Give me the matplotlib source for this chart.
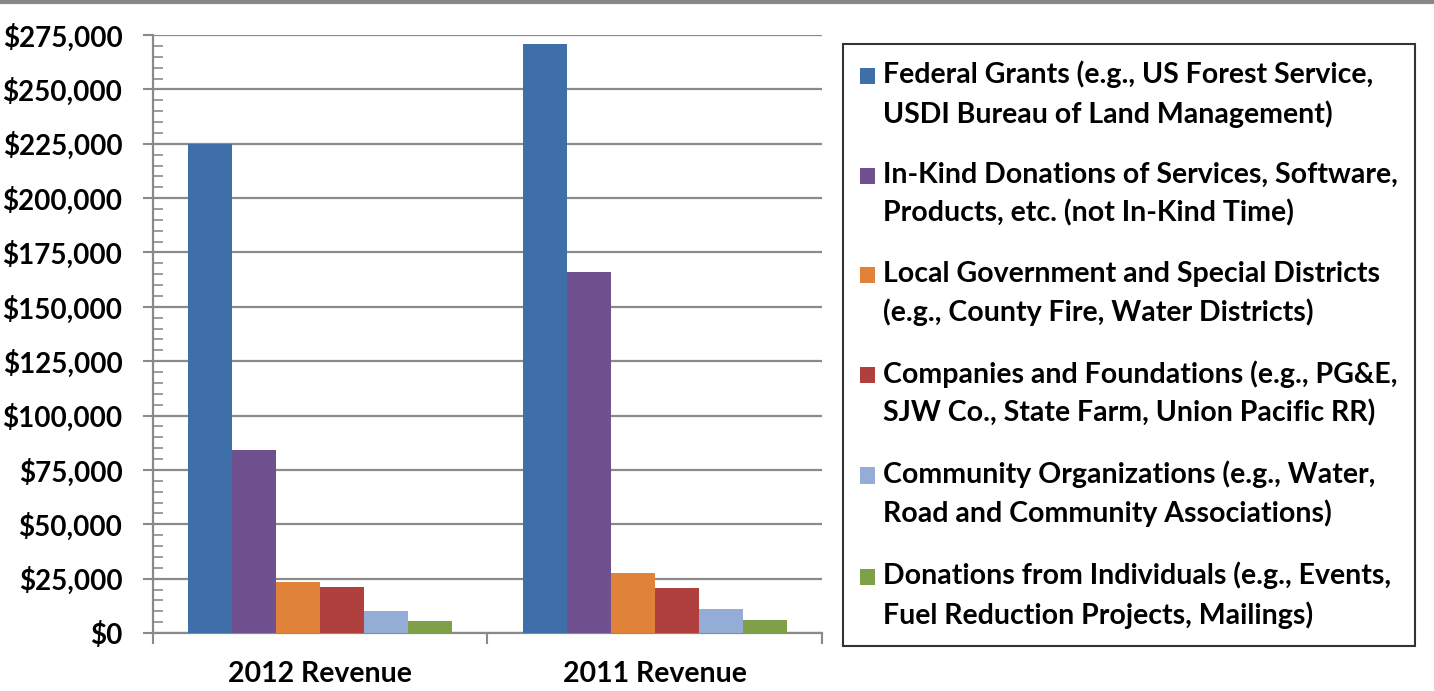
import numpy as np
import matplotlib.pyplot as plt
from matplotlib.lines import Line2D
from matplotlib.patches import Rectangle
from matplotlib.legend_handler import HandlerPatch
from matplotlib.ticker import MultipleLocator, FuncFormatter

# Werte (Dollar)
categories = ["2012 Revenue", "2011 Revenue"]
series_labels = [
    "Federal Grants (e.g., US Forest Service,\nUSDI Bureau of Land Management)",
    "In-Kind Donations of Services, Software,\nProducts, etc. (not In-Kind Time)",
    "Local Government and Special Districts\n(e.g., County Fire, Water Districts)",
    "Companies and Foundations (e.g., PG&E,\nSJW Co., State Farm, Union Pacific RR)",
    "Community Organizations (e.g., Water,\nRoad and Community Associations)",
    "Donations from Individuals (e.g., Events,\nFuel Reduction Projects, Mailings)",
]
federal = [225000, 271000]
in_kind = [84000, 166000]
local_gov = [23300, 27500]
companies = [21200, 20800]
community = [10000, 11200]
individuals = [5600, 6000]
series_values = [federal, in_kind, local_gov, companies, community, individuals]

colors = ["#3f6fa8", "#6f5190", "#e0823a", "#b0403e", "#93add6", "#7fa048"]

plt.rcParams["font.family"] = ["Lato", "DejaVu Sans"]
plt.rcParams["font.weight"] = "bold"

fig = plt.figure(figsize=(14.34, 6.91), dpi=100)
ax = fig.add_axes([0.1067, 0.0839, 0.4665, 0.8654])

x = np.arange(len(categories))
w = 0.1315
bars = []
for i, vals in enumerate(series_values):
    b = ax.bar(x + (i - 2.5) * w, vals, w, color=colors[i], zorder=3)
    bars.append(b)

ax.set_xlim(-0.5, 1.5)
ax.set_ylim(0, 275000)

# Gitterlinien und Achsen in Grau
grid_c = "#8a8a8a"
ax.yaxis.set_major_locator(MultipleLocator(25000))
ax.yaxis.set_minor_locator(MultipleLocator(5000))
ax.yaxis.set_major_formatter(FuncFormatter(lambda v, p: "${:,.0f}".format(v)))
ax.grid(axis="y", color=grid_c, lw=1.6, zorder=0)
ax.tick_params(axis="y", which="major", direction="out", length=7, width=1.5,
               color=grid_c, pad=15, labelsize=20)
ax.tick_params(axis="y", which="minor", direction="in", length=7, width=1.2,
               color=grid_c)

ax.set_xticks(x)
ax.set_xticklabels(categories)
ax.set_xticks([-0.5, 0.5, 1.5], minor=True)
ax.tick_params(axis="x", which="major", length=0, pad=20, labelsize=20.5)
ax.tick_params(axis="x", which="minor", direction="out", length=8, width=1.5,
               color=grid_c)

for s in ["top", "right"]:
    ax.spines[s].set_visible(False)
for s in ["left", "bottom"]:
    ax.spines[s].set_color(grid_c)
    ax.spines[s].set_linewidth(1.6)


# Legendensymbol auf Höhe der ersten Textzeile statt mittig
def square_top(legend, orig_handle, xdescent, ydescent, width, height, fontsize):
    shift = 0.66 * fontsize
    return Rectangle((-xdescent, -ydescent + shift), width, height)


leg = fig.legend([b[0] for b in bars], series_labels,
                 loc="upper left", bbox_to_anchor=(0.588, 0.937),
                 fontsize=20.5, frameon=True, fancybox=False, edgecolor="black",
                 handlelength=0.5, handleheight=0.5, handletextpad=0.3,
                 labelspacing=1.2, borderpad=0.6, borderaxespad=0,
                 handler_map={b[0]: HandlerPatch(patch_func=square_top) for b in bars})
leg.get_frame().set_linewidth(1.5)
for t in leg.get_texts():
    t.set_linespacing(1.52)

# graue Linie am oberen Bildrand
fig.add_artist(Line2D([0, 1], [0.997, 0.997], color="#888888", lw=3,
                      transform=fig.transFigure))

plt.savefig("out.png", dpi=100)
